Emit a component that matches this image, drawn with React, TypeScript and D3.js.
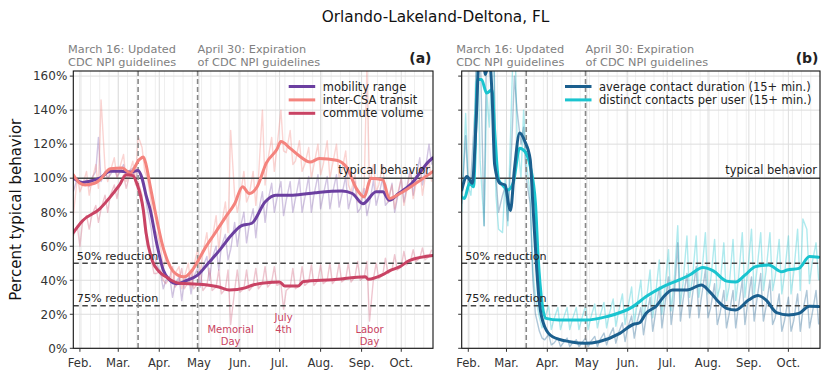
import React from "react";
import * as d3 from "d3";

const FONT = "DejaVu Sans, Verdana, sans-serif";
const TOP = 71;
const BOTTOM = 348.3;

// raw daily values sampled Mon / Thu / Sat, one row per week from Mon Jan 27 2020
const WEEK0 = new Date(2020, 0, 27);
const SLOTS = [0, 3, 5];

const mobilityRaw = [
  [92, 100, 97], [97, 99, 95], [100, 104, 124], [98, 104, 100], [102, 106, 101],
  [103, 108, 100], [104, 106, 98], [105, 98, 92], [82, 70, 55], [50, 44, 35],
  [40, 42, 30], [38, 42, 28], [40, 44, 32], [42, 47, 36], [48, 54, 40],
  [53, 60, 46], [60, 67, 52], [58, 74, 60], [70, 80, 62], [72, 82, 65],
  [80, 92, 74], [86, 97, 80], [88, 98, 78], [87, 98, 80], [88, 100, 80],
  [88, 101, 80], [90, 102, 82], [90, 101, 82], [91, 102, 83], [90, 101, 82],
  [88, 98, 80], [82, 94, 78], [85, 99, 84], [90, 100, 84], [86, 97, 80],
  [88, 100, 86], [94, 106, 90], [100, 112, 96], [104, 120, 108],
];
const transitRaw = [
  [78, 100, 92], [96, 104, 90], [98, 108, 94], [146, 106, 98], [104, 112, 100],
  [106, 114, 98], [102, 110, 96], [125, 118, 104], [100, 85, 70], [68, 60, 48],
  [52, 50, 38], [44, 48, 35], [42, 50, 36], [48, 58, 44], [56, 68, 52],
  [64, 78, 58], [72, 86, 68], [128, 90, 80], [88, 104, 86], [90, 104, 84],
  [100, 140, 96], [110, 124, 104], [118, 140, 116], [115, 128, 108], [110, 122, 104],
  [108, 118, 100], [108, 120, 102], [108, 122, 100], [108, 120, 100], [104, 116, 96],
  [92, 102, 86], [86, 96, 165], [96, 108, 92], [96, 108, 90], [86, 96, 82],
  [90, 100, 84], [92, 104, 88], [96, 106, 90], [100, 110, 98],
];
const commuteRaw = [
  [66, 72, 60], [74, 78, 70], [78, 84, 74], [82, 90, 80], [90, 96, 88],
  [96, 102, 94], [100, 104, 98], [98, 90, 70], [60, 52, 44], [44, 46, 40],
  [38, 42, 48], [36, 40, 47], [35, 39, 46], [35, 38, 46], [34, 37, 47],
  [34, 36, 46], [32, 35, 46], [14, 34, 46], [33, 35, 46], [34, 37, 47],
  [35, 38, 48], [36, 39, 48], [37, 38, 23], [34, 36, 47], [35, 37, 48],
  [37, 39, 49], [37, 40, 49], [38, 40, 50], [38, 41, 50], [39, 41, 50],
  [39, 42, 51], [40, 42, 51], [16, 41, 50], [41, 43, 53], [44, 46, 55],
  [46, 48, 57], [49, 51, 58], [51, 53, 59], [52, 54, 58],
];
const durationRaw = [
  [85, 125, 95], [100, 140, 200], [180, 72, 190], [170, 200, 100], [80, 90, 95],
  [75, 120, 160], [140, 120, 130], [100, 85, 40], [20, 10, 6], [5, 8, 2],
  [3, 6, 1], [3, 6, 1], [3, 5, 1], [3, 6, 1], [4, 7, 1],
  [5, 9, 2], [7, 12, 3], [9, 15, 4], [12, 19, 6], [15, 24, 8],
  [18, 30, 10], [20, 36, 12], [24, 42, 14], [26, 62, 16], [28, 44, 18],
  [30, 48, 18], [30, 46, 18], [24, 38, 14], [20, 34, 12], [20, 34, 12],
  [24, 40, 14], [26, 42, 16], [28, 44, 16], [24, 40, 14], [18, 32, 10],
  [16, 30, 10], [16, 32, 10], [22, 34, 12], [20, 34, 14],
];
const distinctRaw = [
  [80, 138, 95], [90, 120, 190], [110, 72, 150], [130, 190, 90], [70, 68, 100],
  [72, 150, 200], [124, 100, 140], [110, 90, 45], [30, 18, 12], [18, 25, 11],
  [17, 24, 11], [17, 24, 11], [17, 24, 11], [17, 25, 11], [18, 26, 12],
  [19, 27, 12], [20, 29, 13], [21, 32, 14], [23, 36, 15], [25, 40, 17],
  [27, 46, 18], [30, 52, 20], [33, 58, 22], [36, 72, 26], [38, 66, 30],
  [40, 66, 30], [42, 68, 32], [40, 64, 30], [36, 62, 28], [36, 64, 28],
  [40, 68, 30], [44, 70, 32], [45, 68, 34], [45, 68, 34], [42, 64, 32],
  [43, 66, 32], [44, 70, 34], [76, 70, 38], [50, 62, 40],
];

// 7-day smoothed values, read at the bends of each thick line
const mobilitySmooth = [
  ["01-27", 100], ["02-03", 97.5], ["02-10", 98.5], ["02-16", 100], ["02-24", 104],
  ["03-03", 104], ["03-10", 103.5], ["03-16", 104.5], ["03-19", 100], ["03-22", 90],
  ["03-25", 82], ["03-30", 62], ["04-04", 46], ["04-09", 40], ["04-14", 38],
  ["04-22", 40], ["04-30", 43], ["05-08", 50], ["05-17", 58], ["05-25", 66],
  ["06-02", 72], ["06-10", 73.5], ["06-20", 86], ["06-28", 90], ["07-11", 90],
  ["07-28", 91.5], ["08-17", 92.5], ["08-25", 91], ["09-02", 85], ["09-12", 92],
  ["09-17", 92], ["09-22", 87], ["09-29", 91], ["10-09", 97], ["10-22", 110], ["10-25", 112],
];
const transitSmooth = [
  ["01-27", 102], ["02-01", 97], ["02-05", 96], ["02-12", 97], ["02-16", 99],
  ["02-24", 105.5], ["03-04", 106], ["03-10", 103], ["03-17", 111], ["03-20", 112.5],
  ["03-22", 108], ["03-25", 96], ["03-29", 80], ["04-03", 62], ["04-08", 50],
  ["04-15", 43], ["04-20", 42], ["04-25", 45], ["04-30", 51], ["05-05", 58],
  ["05-13", 67.5], ["05-21", 77], ["05-28", 85], ["06-03", 95], ["06-08", 91],
  ["06-14", 95], ["06-21", 109], ["06-29", 117], ["07-02", 121.5], ["07-09", 117.5],
  ["07-16", 113], ["07-24", 109.5], ["07-31", 111.5], ["08-13", 110.5], ["08-21", 106],
  ["08-28", 94], ["09-03", 89], ["09-08", 100], ["09-17", 99], ["09-22", 88],
  ["09-30", 91], ["10-12", 97], ["10-25", 104],
];
const commuteSmooth = [
  ["01-27", 68], ["02-03", 75], ["02-16", 82], ["02-24", 89], ["03-02", 96],
  ["03-07", 102], ["03-12", 101.5], ["03-15", 97], ["03-20", 81], ["03-22", 68],
  ["03-27", 51], ["04-01", 45], ["04-06", 42], ["04-10", 40], ["04-16", 38.3],
  ["04-30", 37.7], ["05-16", 36], ["05-24", 34.2], ["06-05", 35.5], ["06-11", 37.2],
  ["06-26", 38.8], ["07-01", 39], ["07-05", 36.6], ["07-15", 36.6], ["07-19", 39.2],
  ["08-10", 40.3], ["09-04", 42], ["09-06", 40.6], ["09-17", 43.3], ["09-22", 45.5],
  ["09-30", 48], ["10-07", 51.5], ["10-25", 54.5],
];
const durationSmooth = [
  ["01-27", 93], ["01-31", 101], ["02-04", 97], ["02-07", 134], ["02-09", 168],
  ["02-12", 172], ["02-14", 161], ["02-17", 170], ["02-19", 150], ["02-21", 108],
  ["02-25", 97], ["02-29", 96], ["03-03", 83], ["03-04", 81], ["03-07", 105],
  ["03-11", 126.5], ["03-15", 121.5], ["03-19", 111], ["03-21", 85], ["03-24", 46],
  ["03-26", 26.5], ["03-30", 12.7], ["04-05", 6.8], ["04-18", 3.9], ["04-30", 2.9],
  ["05-10", 3.9], ["05-26", 8.8], ["06-05", 14], ["06-10", 15], ["06-15", 20.6],
  ["06-23", 25], ["06-28", 30], ["07-05", 34.3], ["07-16", 34.3], ["07-27", 37.2],
  ["08-02", 33.5], ["08-10", 26.5], ["08-15", 23.5], ["08-22", 22.5], ["09-01", 28.5],
  ["09-08", 31], ["09-14", 28.4], ["09-22", 21], ["10-01", 19.6], ["10-09", 20.5],
  ["10-17", 24.7], ["10-24", 24.5],
];
const distinctSmooth = [
  ["01-27", 89], ["01-29", 88], ["02-02", 97], ["02-05", 95], ["02-08", 158],
  ["02-11", 158], ["02-15", 150], ["02-19", 152], ["02-21", 128], ["02-24", 99],
  ["02-27", 96], ["03-02", 93], ["03-06", 97], ["03-11", 117.6], ["03-15", 115.7],
  ["03-19", 107], ["03-23", 85], ["03-25", 54], ["03-28", 26.5], ["03-31", 17.6],
  ["04-10", 16.6], ["04-30", 16.6], ["05-16", 18.6], ["06-05", 24.5], ["06-15", 30.4],
  ["06-28", 36.3], ["07-10", 40.2], ["07-18", 43.1], ["07-28", 47.5], ["08-05", 45.5],
  ["08-15", 39.5], ["08-22", 39], ["08-29", 43], ["09-06", 48], ["09-16", 49],
  ["09-26", 45], ["09-30", 46], ["10-09", 47], ["10-17", 54], ["10-24", 53.5],
];

const monthLabels = ["Feb.", "Mar.", "Apr.", "May", "Jun.", "Jul.", "Aug.", "Sep.", "Oct."];
const yTicks = [0, 20, 40, 60, 80, 100, 120, 140, 160];
const holidays = [
  { date: "05-25", lines: ["Memorial", "Day"], y: 333 },
  { date: "07-04", lines: ["July", "4th"], y: 321 },
  { date: "09-07", lines: ["Labor", "Day"], y: 333 },
];

const parseDay = d3.timeParse("%Y-%m-%d");
const toDate = (s) => parseDay("2020-" + s);
const weekly = (rows) =>
  rows.flatMap((r, k) => r.map((v, j) => ({ date: d3.timeDay.offset(WEEK0, k * 7 + SLOTS[j]), value: v })));
const smoothPts = (arr) => arr.map(([d, v]) => ({ date: toDate(d), value: v }));

const panels = [
  {
    id: "a", left: 73.3, right: 433, label: "(a)", yLabels: true,
    legendX: 288.7, holidays: true,
    series: [
      { name: "mobility range", color: "#6b3fa0", raw: mobilityRaw, smooth: mobilitySmooth, op: 0.3 },
      { name: "inter-CSA transit", color: "#f4837d", raw: transitRaw, smooth: transitSmooth, op: 0.35 },
      { name: "commute volume", color: "#c94364", raw: commuteRaw, smooth: commuteSmooth, op: 0.3 },
    ],
  },
  {
    id: "b", left: 461.7, right: 820, label: "(b)", yLabels: false,
    legendX: 565, holidays: false,
    series: [
      { name: "average contact duration (15+ min.)", color: "#1b5f8e", raw: durationRaw, smooth: durationSmooth, op: 0.35 },
      { name: "distinct contacts per user (15+ min.)", color: "#1ac4cf", raw: distinctRaw, smooth: distinctSmooth, op: 0.35 },
    ],
  },
];

function Panel({ p }) {
  const x = d3.scaleTime().domain([new Date(2020, 0, 27), new Date(2020, 9, 25)]).range([p.left, p.right]);
  const y = d3.scaleLinear().domain([0, 163]).range([BOTTOM, TOP]);
  const rawLine = d3.line().x((d) => x(d.date)).y((d) => y(d.value));
  const smoothLine = d3.line().x((d) => x(d.date)).y((d) => y(d.value)).curve(d3.curveMonotoneX);
  const weeks = d3.timeSunday.range(new Date(2020, 0, 27), new Date(2020, 9, 25));
  const months = d3.timeMonth.range(new Date(2020, 1, 1), new Date(2020, 9, 2));
  const mar16 = x(new Date(2020, 2, 16));
  const apr30 = x(new Date(2020, 3, 30));
  const drawOrder = p.id === "b" ? [...p.series].reverse() : p.series;

  return (
    <g fontFamily={FONT}>
      <defs>
        <clipPath id={`clip-${p.id}`}>
          <rect x={p.left} y={TOP} width={p.right - p.left} height={BOTTOM - TOP} />
        </clipPath>
      </defs>
      {weeks.map((d, i) => (
        <line key={"w" + i} x1={x(d)} x2={x(d)} y1={TOP} y2={BOTTOM} stroke="#efefef" strokeWidth={1} />
      ))}
      {months.map((d, i) => (
        <line key={"m" + i} x1={x(d)} x2={x(d)} y1={TOP} y2={BOTTOM} stroke="#dddddd" strokeWidth={1} />
      ))}
      {yTicks.map((v) => (
        <line key={"g" + v} x1={p.left} x2={p.right} y1={y(v)} y2={y(v)} stroke="#dddddd" strokeWidth={1} />
      ))}

      <g clipPath={`url(#clip-${p.id})`}>
        {drawOrder.map((s) => (
          <path key={"r" + s.name} d={rawLine(weekly(s.raw))} fill="none" stroke={s.color}
            strokeOpacity={s.op} strokeWidth={1.4} strokeLinejoin="round" />
        ))}
        <line x1={p.left} x2={p.right} y1={y(100)} y2={y(100)} stroke="#444" strokeWidth={1.4} />
        <line x1={p.left} x2={p.right} y1={y(50)} y2={y(50)} stroke="#444" strokeWidth={1.6} strokeDasharray="5.5,3.5" />
        <line x1={p.left} x2={p.right} y1={y(25)} y2={y(25)} stroke="#444" strokeWidth={1.6} strokeDasharray="5.5,3.5" />
        <line x1={mar16} x2={mar16} y1={TOP} y2={BOTTOM} stroke="#888" strokeWidth={1.6} strokeDasharray="5,3" />
        <line x1={apr30} x2={apr30} y1={TOP} y2={BOTTOM} stroke="#888" strokeWidth={1.6} strokeDasharray="5,3" />
        {drawOrder.map((s) => (
          <path key={"s" + s.name} d={smoothLine(smoothPts(s.smooth))} fill="none" stroke={s.color}
            strokeWidth={3} strokeLinejoin="round" strokeLinecap="round" />
        ))}
      </g>

      <text x={p.right - 3} y={y(100) - 4} textAnchor="end" fontSize={11.4} fill="#222">typical behavior</text>
      <text x={p.left + 3.5} y={y(50) - 3.5} fontSize={11.2} fill="#222">50% reduction</text>
      <text x={p.left + 3.5} y={y(25) - 4} fontSize={11.2} fill="#222">75% reduction</text>

      {p.holidays &&
        holidays.map((h) => (
          <text key={h.date} x={x(toDate(h.date))} y={h.y} textAnchor="middle" fontSize={10} fill="#c9435f">
            {h.lines.map((t, i) => (
              <tspan key={i} x={x(toDate(h.date))} dy={i === 0 ? 0 : 11.5}>{t}</tspan>
            ))}
          </text>
        ))}

      {p.series.map((s, i) => (
        <g key={"l" + s.name} transform={`translate(${p.legendX},${86.5 + i * 13.4})`}>
          <line x1={0} x2={26.5} y1={0} y2={0} stroke={s.color} strokeWidth={3} />
          <text x={34} y={4} fontSize={11.5} fill="#222">{s.name}</text>
        </g>
      ))}

      <rect x={p.left} y={TOP} width={p.right - p.left} height={BOTTOM - TOP} fill="none" stroke="#111" strokeWidth={1.1} />

      {yTicks.map((v) => (
        <g key={"yt" + v}>
          <line x1={p.left - 3.5} x2={p.left} y1={y(v)} y2={y(v)} stroke="#333" />
          {p.yLabels && (
            <text x={p.left - 6} y={y(v)} dy="0.36em" textAnchor="end" fontSize={12} fill="#333">{v}%</text>
          )}
        </g>
      ))}
      {months.map((d, i) => (
        <g key={"xt" + i}>
          <line x1={x(d)} x2={x(d)} y1={BOTTOM} y2={BOTTOM + 3.5} stroke="#333" />
          <text x={x(d)} y={366.5} textAnchor="middle" fontSize={11.6} fill="#333">{monthLabels[i]}</text>
        </g>
      ))}

      <text x={mar16 - 70} y={53.3} fontSize={11.3} fill="#808080">March 16: Updated</text>
      <text x={mar16 - 70} y={65.7} fontSize={11.3} fill="#808080">CDC NPI guidelines</text>
      <text x={apr30} y={53.3} fontSize={11.3} fill="#808080">April 30: Expiration</text>
      <text x={apr30} y={65.7} fontSize={11.3} fill="#808080">of CDC NPI guidelines</text>
      <text x={p.right - 1.5} y={62.5} textAnchor="end" fontSize={14} fontWeight="bold" fill="#222">{p.label}</text>
    </g>
  );
}

export default function App() {
  return (
    <div>
      <style>{"body{margin:0}"}</style>
      <svg width={830} height={378} style={{ display: "block", background: "#fff" }}>
        <text x={435.5} y={21.5} textAnchor="middle" fontFamily={FONT} fontSize={15.3} fill="#111">
          Orlando-Lakeland-Deltona, FL
        </text>
        <text transform="translate(21,209.7) rotate(-90)" textAnchor="middle" fontFamily={FONT} fontSize={15} fill="#111">
          Percent typical behavior
        </text>
        {panels.map((p) => (
          <Panel key={p.id} p={p} />
        ))}
      </svg>
    </div>
  );
}
